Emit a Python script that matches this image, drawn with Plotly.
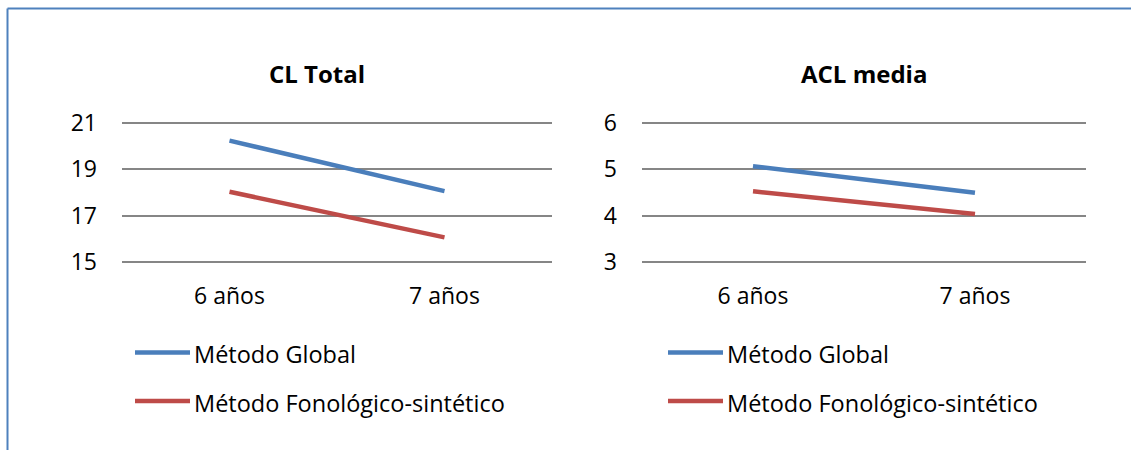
import plotly.graph_objects as go

W, H = 1131, 450

categories = ["6 años", "7 años"]
series_names = ["Método Global", "Método Fonológico-sintético"]
colors = ["#4A7EBB", "#BE4B48"]

cl_total_global = [20.22, 18.05]
cl_total_fono = [18.02, 16.06]
acl_media_global = [5.06, 4.49]
acl_media_fono = [4.52, 4.03]

titles = ["CL Total", "ACL media"]
y_ticks_left = [15, 17, 19, 21]
y_ticks_right = [3, 4, 5, 6]

FONT = "'Open Sans', 'Noto Sans', sans-serif"

def px_x(p):
    return p / W

def px_y(p):
    return 1 - p / H

fig = go.Figure()

left = [cl_total_global, cl_total_fono]
right = [acl_media_global, acl_media_fono]
for i, name in enumerate(series_names):
    fig.add_trace(go.Scatter(x=categories, y=left[i], mode="lines", name=name,
                             line=dict(color=colors[i], width=4.5),
                             xaxis="x", yaxis="y", showlegend=False))
for i, name in enumerate(series_names):
    fig.add_trace(go.Scatter(x=categories, y=right[i], mode="lines", name=name,
                             line=dict(color=colors[i], width=4.5),
                             xaxis="x2", yaxis="y2", showlegend=False))

pad_px = 2.0
span_px = 262.0 - 122.5
ydom = [px_y(262.0 + pad_px), px_y(122.5 - pad_px)]
padL = 6 * pad_px / span_px
padR = 3 * pad_px / span_px

common_x = dict(type="category", range=[-0.5, 1.5], showgrid=False, zeroline=False,
                showline=False, ticks="", tickfont=dict(family=FONT, size=23, color="#000"),
                ticklabelstandoff=16, automargin=False)
common_y = dict(showgrid=True, gridcolor="#868686", gridwidth=1.5, zeroline=False,
                showline=False, ticks="", tickfont=dict(family=FONT, size=23, color="#000"),
                ticklabelstandoff=24, automargin=False)

fig.update_layout(
    width=W, height=H,
    margin=dict(l=0, r=0, t=0, b=0, pad=0, autoexpand=False),
    paper_bgcolor="white", plot_bgcolor="white",
    xaxis=dict(domain=[px_x(122), px_x(552)], anchor="y", **common_x),
    xaxis2=dict(domain=[px_x(642), px_x(1086)], anchor="y2", **common_x),
    yaxis=dict(domain=ydom, anchor="x", range=[15 - padL, 21 + padL], tickvals=y_ticks_left, **common_y),
    yaxis2=dict(domain=ydom, anchor="x2", range=[3 - padR, 6 + padR], tickvals=y_ticks_right, **common_y),
    showlegend=False,
)

for t, cx in zip(titles, [316.5, 864]):
    fig.add_annotation(text="<b>%s</b>" % t, x=px_x(cx), y=px_y(73), xref="paper", yref="paper",
                       showarrow=False, xanchor="center", yanchor="middle",
                       font=dict(family=FONT, size=24, color="#000"))

for x0, x1 in [(135, 190), (668, 723)]:
    for i, name in enumerate(series_names):
        yy = [352.5, 401][i]
        fig.add_shape(type="line", xref="paper", yref="paper",
                      x0=px_x(x0), x1=px_x(x1), y0=px_y(yy), y1=px_y(yy),
                      line=dict(color=colors[i], width=4.5))
        fig.add_annotation(text=name, x=px_x(x1 + 2), y=px_y(yy + 1.5), xref="paper", yref="paper",
                           showarrow=False, xanchor="left", yanchor="middle",
                           font=dict(family=FONT, size=23.5, color="#000"))

fig.add_shape(type="line", xref="paper", yref="paper",
              x0=px_x(7.5), x1=1, y0=px_y(8.5), y1=px_y(8.5),
              line=dict(color="#4F81BD", width=2))
fig.add_shape(type="line", xref="paper", yref="paper",
              x0=px_x(7.5), x1=px_x(7.5), y0=px_y(8.5), y1=0,
              line=dict(color="#4F81BD", width=2))

fig.write_html("out.html")
